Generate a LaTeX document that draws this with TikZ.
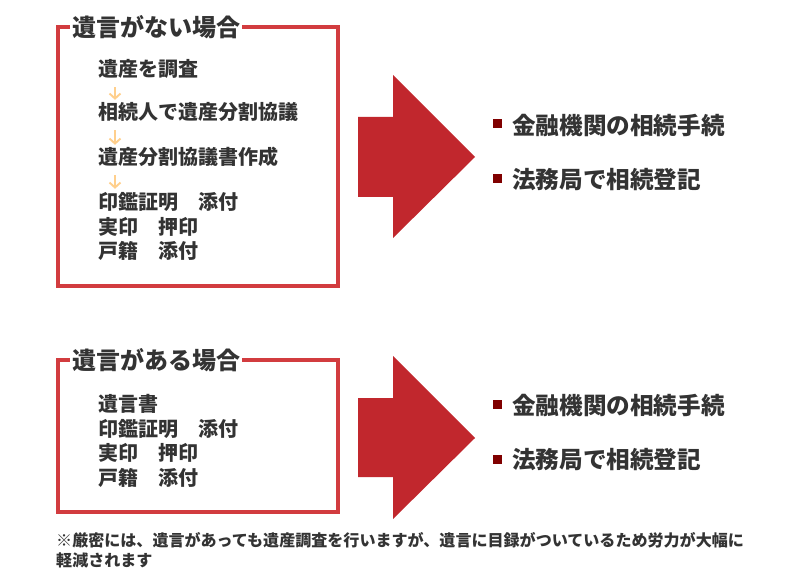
\documentclass[tikz,border=0pt]{standalone}
\usepackage{fontspec}
\setmainfont{Noto Sans CJK JP}
\usetikzlibrary{arrows.meta}
\definecolor{framered}{HTML}{D23C3F}
\definecolor{arrowred}{HTML}{C1272D}
\definecolor{bulletred}{HTML}{800000}
\definecolor{textgray}{HTML}{333333}
\definecolor{arroworange}{HTML}{FFCF8C}
\begin{document}
\begin{tikzpicture}[x=1pt,y=-1pt,
  frame/.style={draw=framered, line width=3.5pt},
  titlebox/.style={anchor=west, fill=white, inner xsep=2pt, inner ysep=0pt, text=textgray, font=\fontsize{24}{28}\selectfont\bfseries},
  item/.style={anchor=west, inner sep=0pt, text height=14pt, text depth=4pt, text=textgray, font=\fontsize{20}{24}\selectfont\bfseries},
  stepdown/.style={draw=arroworange, line width=1.9pt, shorten <=6pt, shorten >=6pt, -{Straight Barb[length=5pt,width=11pt,line width=1.9pt]}},
  bigarrow/.style={fill=arrowred},
  bulletsq/.style={fill=bulletred, minimum size=9pt, inner sep=0pt},
  result/.style={anchor=west, inner sep=0pt, text=textgray, font=\fontsize{23.6}{28}\selectfont\bfseries},
  note/.style={anchor=west, inner sep=0pt, text=textgray, font=\fontsize{16.05}{20}\selectfont\bfseries}]
\useasboundingbox (0,0) rectangle (800,580);

% top case
\draw[frame] (58,27) rectangle (338,286);
\node[titlebox] (t1) at (70,27) {遺言がない場合};
\node[item] (s1) at (98,72) {遺産を調査};
\node[item] (s2) at (98,115) {相続人で遺産分割協議};
\node[item] (s3) at (98,160) {遺産分割協議書作成};
\node[item] (s4) at (98,204) {印鑑証明　添付};
\node[item] (s5) at (98,229) {実印　押印};
\node[item] (s6) at (98,253) {戸籍　添付};
\draw[stepdown] ([xshift=17pt]s1.south west) -- ([xshift=17pt]s2.north west);
\draw[stepdown] ([xshift=17pt]s2.south west) -- ([xshift=17pt]s3.north west);
\draw[stepdown] ([xshift=17pt]s3.south west) -- ([xshift=17pt]s4.north west);

\fill[bigarrow] (358,117) -- (393,117) -- (393,75) -- (475,157) -- (393,238) -- (393,197) -- (358,197) -- cycle;
\node[bulletsq] (b1) at (497.5,123.5) {};
\node[result] (r1) at (512,125) {金融機関の相続手続};
\node[bulletsq] (b2) at (497.5,178.5) {};
\node[result] (r2) at (512,180) {法務局で相続登記};

% bottom case
\draw[frame] (58,360) rectangle (338,512);
\node[titlebox] (t2) at (70,360) {遺言がある場合};
\node[item] (u1) at (98,406) {遺言書};
\node[item] (u2) at (98,431) {印鑑証明　添付};
\node[item] (u3) at (98,455) {実印　押印};
\node[item] (u4) at (98,480) {戸籍　添付};

\fill[bigarrow] (358,398) -- (393,398) -- (393,356) -- (475,438) -- (393,519) -- (393,477) -- (358,477) -- cycle;
\node[bulletsq] (b3) at (497.5,404) {};
\node[result] (r3) at (512,405) {金融機関の相続手続};
\node[bulletsq] (b4) at (497.5,459) {};
\node[result] (r4) at (512,460) {法務局で相続登記};

% footnote
\node[note] (n1) at (56,540) {※厳密には、遺言があっても遺産調査を行いますが、遺言に目録がついているため労力が大幅に};
\node[note] (n2) at (56,560) {軽減されます};
\end{tikzpicture}
\end{document}
